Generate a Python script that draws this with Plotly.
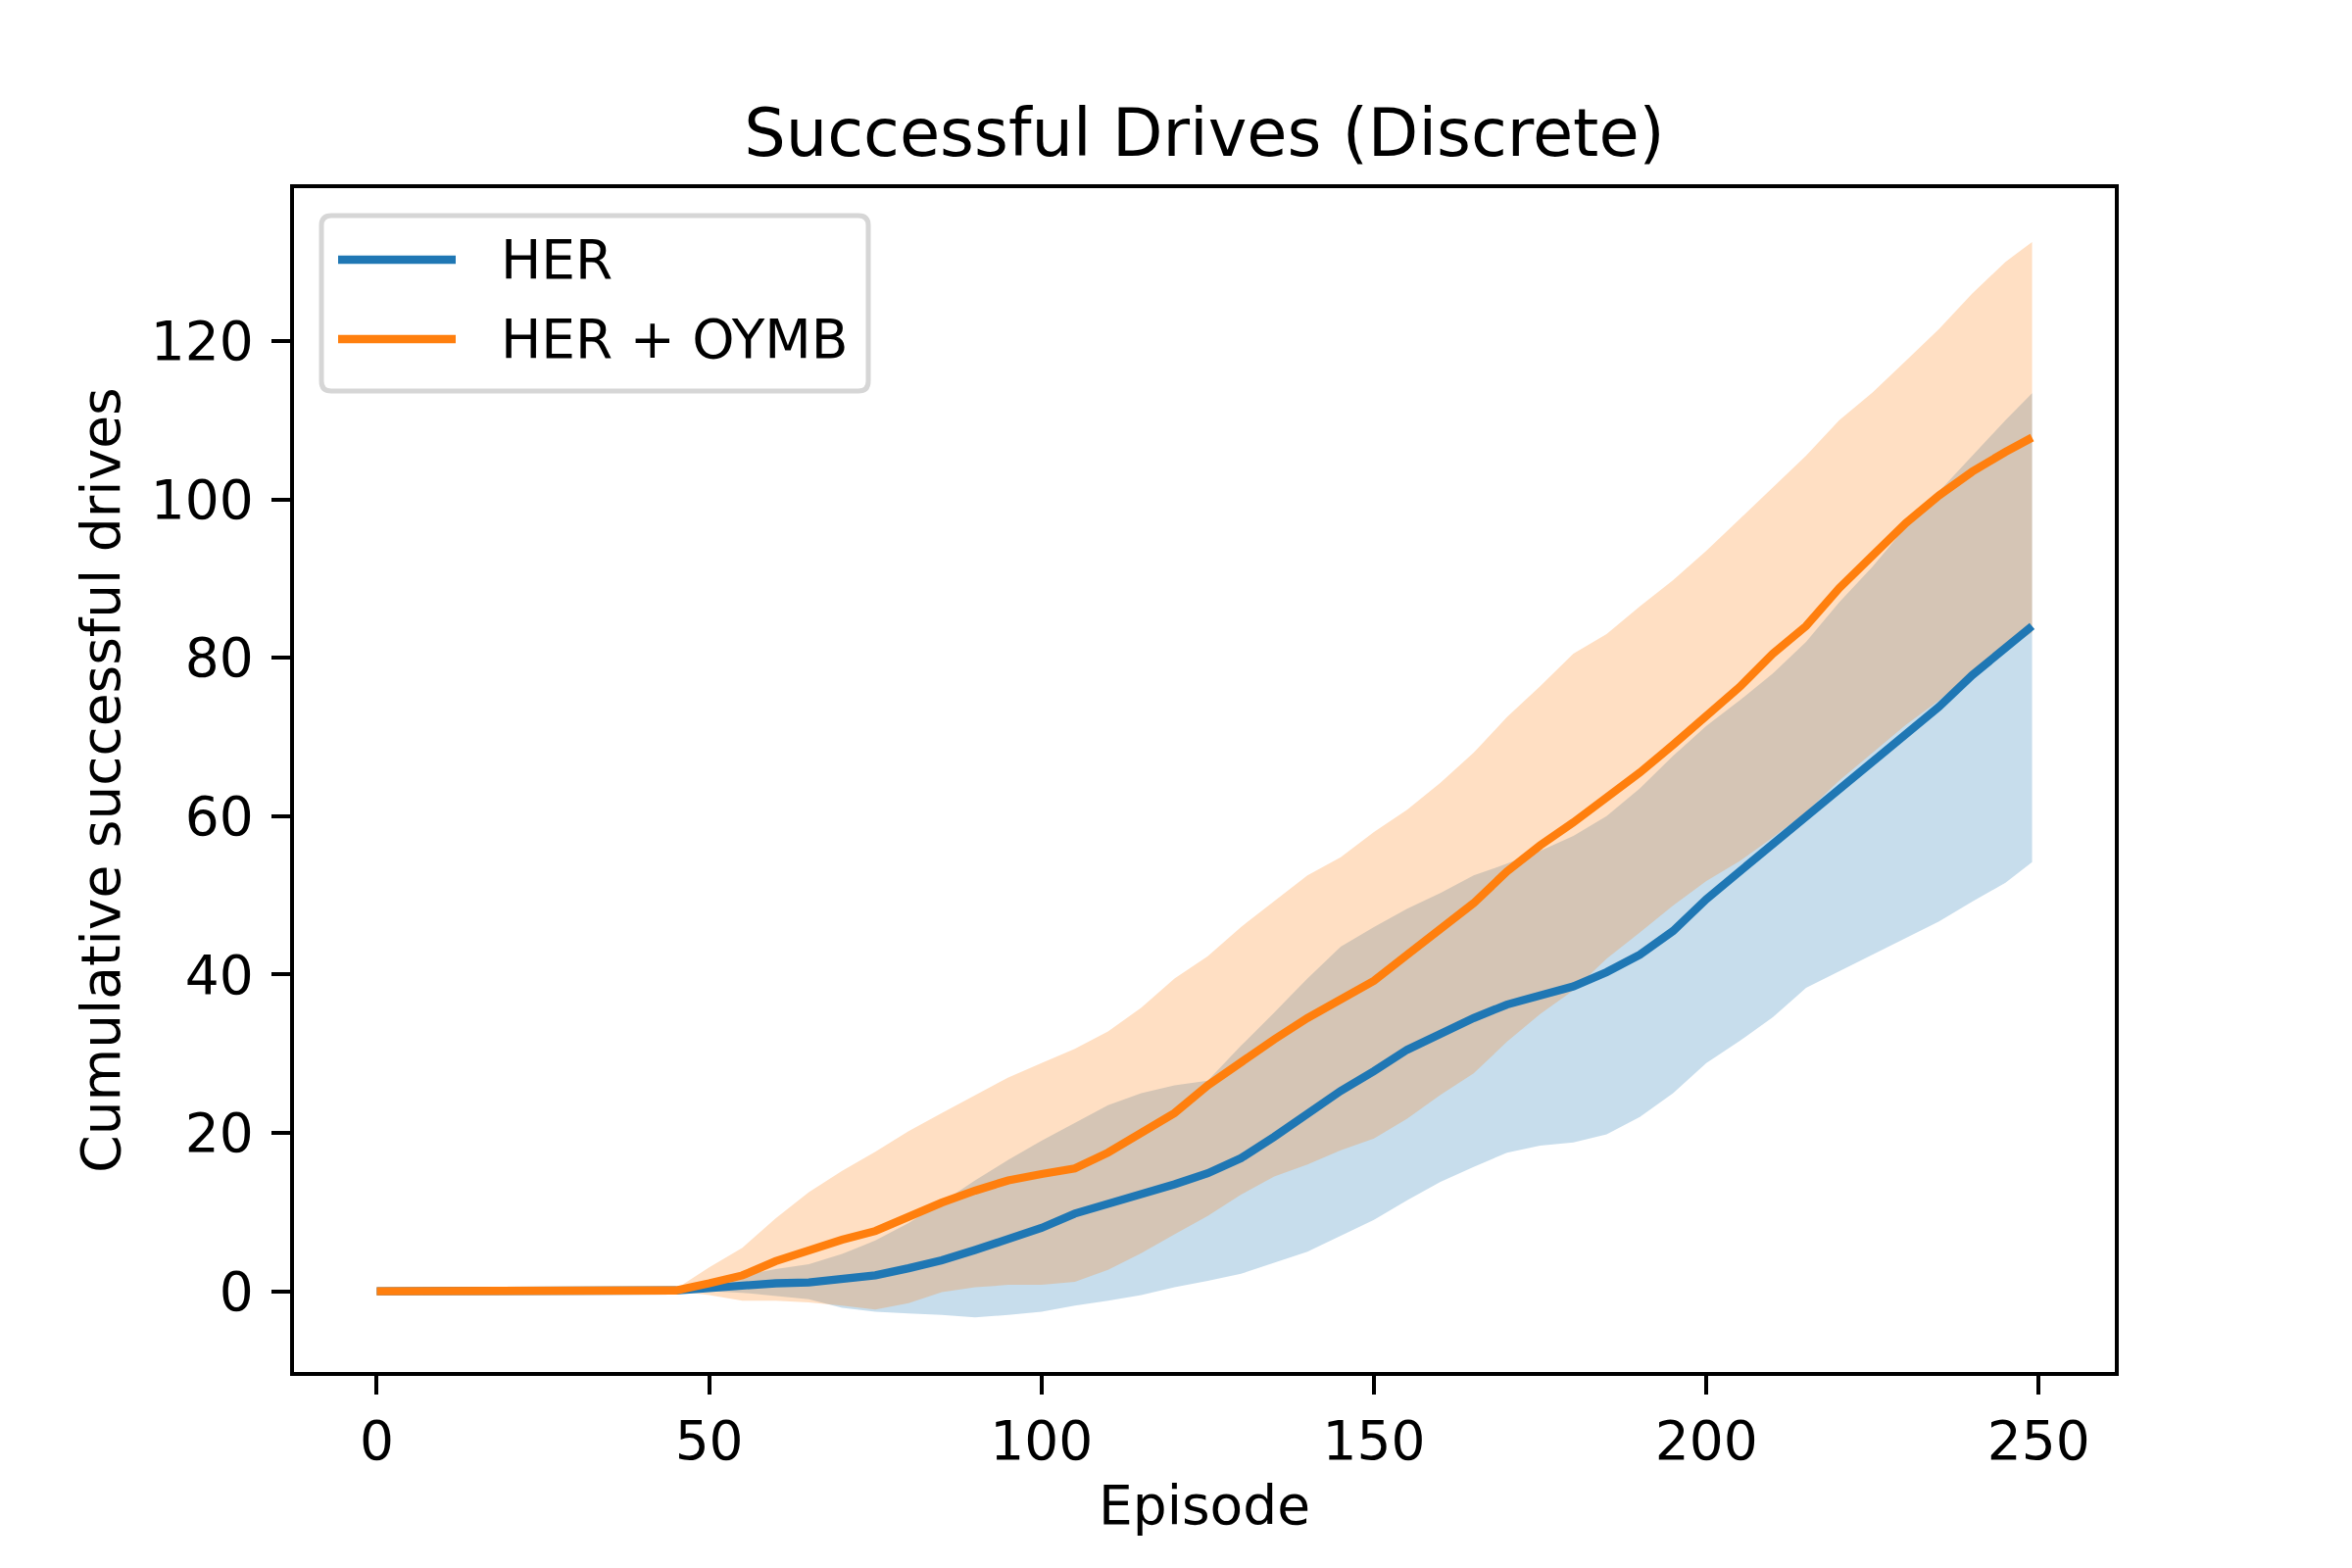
import plotly.graph_objects as go

# Episodes
episodes = [0, 5, 10, 15, 20, 25, 30, 35, 40, 45, 50, 55, 60, 65, 70, 75, 80, 85, 90, 95,
            100, 105, 110, 115, 120, 125, 130, 135, 140, 145, 150, 155, 160, 165, 170, 175,
            180, 185, 190, 195, 200, 205, 210, 215, 220, 225, 230, 235, 240, 245, 249]

# HER: mean and mean +/- std
her_mean = [0, 0, 0, 0, 0, 0, 0, 0, 0.1, 0.1, 0.4, 0.8, 1.0, 1.1, 1.5, 2.0, 2.9, 3.9, 5.2, 6.6,
            8.0, 9.8, 11.0, 12.4, 13.5, 14.9, 16.8, 19.5, 22.5, 25.3, 27.8, 30.5, 32.5, 34.5, 36.2, 37.3,
            38.5, 40.3, 42.5, 45.5, 49.5, 53.0, 56.5, 59.8, 63.2, 66.8, 70.3, 73.8, 77.8, 81.2, 84.0]
her_upper = [0, 0, 0, 0, 0, 0, 0, 0, 0.1, 0.1, 0.5, 2.0, 2.8, 3.4, 4.7, 6.4, 8.6, 11.2, 14.0, 16.6,
             19.0, 21.3, 23.5, 25.0, 26.0, 26.6, 31.0, 35.2, 39.5, 43.5, 46.0, 48.3, 50.3, 52.5, 54.0, 55.6,
             57.5, 60.0, 63.5, 67.6, 71.4, 74.6, 78.0, 82.0, 87.0, 91.5, 96.5, 101.0, 105.5, 110.0, 113.4]
her_lower = [0, 0, 0, 0, 0, 0, 0, 0, 0, 0, 0, -0.2, -0.6, -1.0, -2.1, -2.6, -2.8, -3.0, -3.3, -3.0,
             -2.6, -1.8, -1.2, -0.5, 0.5, 1.3, 2.2, 3.6, 5.0, 7.0, 9.0, 11.5, 13.8, 15.7, 17.5, 18.4,
             18.8, 19.8, 22.0, 25.0, 28.8, 31.6, 34.6, 38.3, 40.4, 42.5, 44.5, 46.7, 49.2, 51.6, 54.2]

# HER + OYMB: mean and mean +/- std
oymb_mean = [0, 0, 0, 0, 0, 0, 0, 0, 0, 0.1, 1.0, 2.0, 3.8, 5.2, 6.5, 7.6, 9.5, 11.2, 12.7, 14.0,
             14.8, 15.5, 17.5, 20.0, 22.5, 26.0, 29.0, 31.8, 34.5, 36.8, 39.2, 42.5, 45.6, 49.0, 53.0, 56.3,
             59.2, 62.3, 65.5, 69.0, 72.6, 76.3, 80.5, 84.0, 88.8, 93.0, 97.0, 100.5, 103.5, 106.0, 107.8]
oymb_upper = [0, 0, 0, 0, 0, 0, 0, 0, 0, 0.3, 3.0, 5.5, 9.2, 12.5, 15.2, 17.6, 20.2, 22.5, 24.8, 27.0,
              28.8, 30.6, 32.8, 35.8, 39.5, 42.3, 46.0, 49.2, 52.5, 54.8, 58.0, 60.8, 64.2, 68.0, 72.5, 76.4,
              80.5, 83.0, 86.5, 89.8, 93.5, 97.5, 101.5, 105.5, 110.0, 113.5, 117.5, 121.5, 126.0, 130.0, 132.5]
oymb_lower = [0, 0, 0, 0, 0, 0, 0, 0, 0, 0, -0.5, -1.2, -1.2, -1.4, -1.8, -2.3, -1.5, -0.1, 0.5, 0.8,
              0.8, 1.2, 2.7, 4.8, 7.2, 9.5, 12.2, 14.5, 16.0, 17.8, 19.3, 21.8, 24.8, 27.5, 31.5, 35.0,
              38.0, 42.0, 45.3, 48.7, 51.8, 54.3, 57.3, 60.5, 64.5, 68.0, 71.5, 74.6, 78.2, 81.0, 83.2]

series_names = ['HER', 'HER + OYMB']

BLUE = '#1f77b4'
ORANGE = '#ff7f0e'
FONT = 'DejaVu Sans'

# figure is 2384x1584 because the page body adds an 8px margin
W, H = 2384, 1584
L, R, T, B = 292, 234, 184, 192
PW, PH = W - L - R, H - T - B


def px(x):
    return (x - L) / PW


def py(y):
    return 1 - (y - T) / PH


fig = go.Figure()

# shaded std bands first, so the mean lines sit on top
fig.add_trace(go.Scatter(x=episodes, y=her_lower, mode='lines', line=dict(width=0),
                         showlegend=False, hoverinfo='skip'))
fig.add_trace(go.Scatter(x=episodes, y=her_upper, mode='lines', line=dict(width=0),
                         fill='tonexty', fillcolor='rgba(31,119,180,0.25)',
                         showlegend=False, hoverinfo='skip'))
fig.add_trace(go.Scatter(x=episodes, y=oymb_lower, mode='lines', line=dict(width=0),
                         showlegend=False, hoverinfo='skip'))
fig.add_trace(go.Scatter(x=episodes, y=oymb_upper, mode='lines', line=dict(width=0),
                         fill='tonexty', fillcolor='rgba(255,127,14,0.25)',
                         showlegend=False, hoverinfo='skip'))

fig.add_trace(go.Scatter(x=episodes, y=her_mean, mode='lines', name=series_names[0],
                         line=dict(color=BLUE, width=8.3), showlegend=False))
fig.add_trace(go.Scatter(x=episodes, y=oymb_mean, mode='lines', name=series_names[1],
                         line=dict(color=ORANGE, width=8.3), showlegend=False))

# matplotlib-like legend box (rounded frame, long line handles)
x0, x1, y0, y1, rad = 320, 878, 212, 391, 10
box = (f'M {px(x0 + rad)} {py(y0)} L {px(x1 - rad)} {py(y0)} Q {px(x1)} {py(y0)} {px(x1)} {py(y0 + rad)} '
       f'L {px(x1)} {py(y1 - rad)} Q {px(x1)} {py(y1)} {px(x1 - rad)} {py(y1)} '
       f'L {px(x0 + rad)} {py(y1)} Q {px(x0)} {py(y1)} {px(x0)} {py(y1 - rad)} '
       f'L {px(x0)} {py(y0 + rad)} Q {px(x0)} {py(y0)} {px(x0 + rad)} {py(y0)} Z')
fig.add_shape(type='path', path=box, xref='paper', yref='paper', layer='above',
              fillcolor='rgba(255,255,255,0.8)', line=dict(color='#d6d6d6', width=5))
for name, color, yy in zip(series_names, [BLUE, ORANGE], [257, 338]):
    fig.add_shape(type='line', xref='paper', yref='paper', layer='above',
                  x0=px(337), x1=px(457), y0=py(yy), y1=py(yy), line=dict(color=color, width=8.3))
    fig.add_annotation(text=name, xref='paper', yref='paper', x=px(501), y=py(yy),
                       xanchor='left', yanchor='middle', showarrow=False,
                       font=dict(family=FONT, size=55, color='black'))

axis_style = dict(showgrid=False, zeroline=False, showline=True, linecolor='black', linewidth=4.4,
                  mirror=True, ticks='outside', ticklen=19, tickwidth=4.4, tickcolor='black',
                  tickfont=dict(family=FONT, size=55, color='black'))

fig.update_layout(
    width=W, height=H,
    paper_bgcolor='white', plot_bgcolor='white',
    margin=dict(l=L, r=R, t=T, b=B),
    font=dict(family=FONT, size=55, color='black'),
    title=dict(text='Successful Drives (Discrete)', font=dict(family=FONT, size=67, color='black'),
               x=0.5, xref='paper', xanchor='center', y=0.9192, yanchor='middle'),
    xaxis=dict(range=[-12.45, 261.45], tickvals=[0, 50, 100, 150, 200, 250], ticklabelstandoff=0,
               title=dict(text='Episode', font=dict(family=FONT, size=55), standoff=16), **axis_style),
    yaxis=dict(range=[-10.2, 139.3], tickvals=[0, 20, 40, 60, 80, 100, 120], ticklabelstandoff=7,
               title=dict(text='Cumulative successful drives', font=dict(family=FONT, size=55), standoff=15),
               **axis_style),
    showlegend=False,
)

fig.write_html('out.html')
